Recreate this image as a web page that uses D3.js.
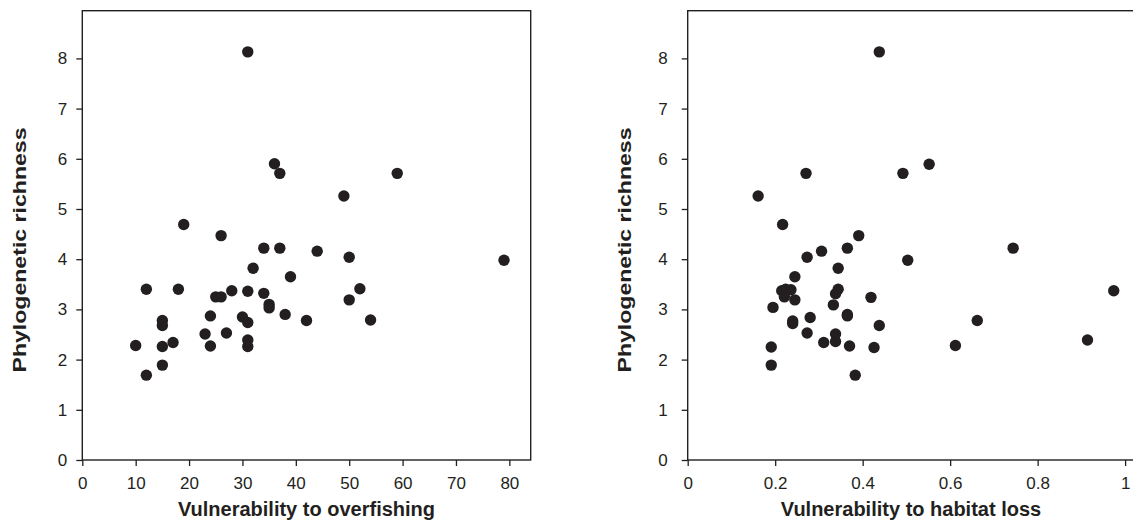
<!DOCTYPE html>
<html>
<head>
<meta charset="utf-8">
<script src="https://cdn.jsdelivr.net/npm/d3@7"></script>
<style>
  html, body { margin: 0; padding: 0; background: #fff; }
  svg { display: block; }
  text { font-family: "Liberation Sans", Arial, sans-serif; fill: #231f20; }
</style>
</head>
<body>
<svg id="chart" width="1133" height="522"></svg>
<script>
// ---- Data ----
const overfishing = [31, 36, 37, 59, 49, 19, 26, 34, 37, 44, 50, 79, 32, 39, 12, 18, 52, 25, 26, 28, 31, 34, 35, 35, 50, 24, 30, 31, 38, 42, 54, 15, 15, 23, 27, 31, 31, 10, 15, 17, 24, 15, 12];
const overfishingRichness = [8.13, 5.90, 5.71, 5.71, 5.26, 4.69, 4.47, 4.22, 4.22, 4.16, 4.04, 3.98, 3.82, 3.65, 3.40, 3.40, 3.41, 3.25, 3.25, 3.37, 3.36, 3.32, 3.10, 3.03, 3.19, 2.87, 2.85, 2.74, 2.90, 2.78, 2.79, 2.78, 2.68, 2.51, 2.53, 2.39, 2.26, 2.28, 2.26, 2.34, 2.27, 1.89, 1.69];

const habitatLoss = [0.438, 0.2705, 0.492, 0.552, 0.161, 0.217, 0.391, 0.365, 0.306, 0.273, 0.503, 0.744, 0.344, 0.245, 0.974, 0.215, 0.224, 0.236, 0.221, 0.245, 0.344, 0.338, 0.419, 0.195, 0.333, 0.365, 0.365, 0.280, 0.240, 0.240, 0.438, 0.662, 0.273, 0.338, 0.914, 0.338, 0.311, 0.370, 0.426, 0.191, 0.191, 0.383, 0.612];
const habitatRichness = [8.13, 5.71, 5.71, 5.89, 5.26, 4.69, 4.47, 4.22, 4.16, 4.04, 3.98, 4.22, 3.82, 3.65, 3.37, 3.37, 3.40, 3.39, 3.25, 3.19, 3.40, 3.31, 3.24, 3.04, 3.09, 2.90, 2.87, 2.84, 2.77, 2.72, 2.68, 2.78, 2.53, 2.51, 2.39, 2.36, 2.34, 2.27, 2.24, 2.25, 1.89, 1.69, 2.28];

const yTicks = [0, 1, 2, 3, 4, 5, 6, 7, 8];
const xTicksOverfishing = [0, 10, 20, 30, 40, 50, 60, 70, 80];
const xTicksHabitat = [0, 0.2, 0.4, 0.6, 0.8, 1];

const yLabel = "Phylogenetic richness";
const xLabelOverfishing = "Vulnerability to overfishing";
const xLabelHabitat = "Vulnerability to habitat loss";

// ---- Drawing ----
const svg = d3.select("#chart");
const ink = "#231f20";
const plotTop = 10.7, plotBottom = 460;

function panel(cfg) {
  const x = d3.scaleLinear().domain(cfg.xDomain).range([cfg.left, cfg.right]);
  const y = d3.scaleLinear().domain([0, 8.95]).range([plotBottom, plotTop]);
  const g = svg.append("g");

  // frame
  g.append("rect")
    .attr("x", cfg.left).attr("y", plotTop)
    .attr("width", cfg.right - cfg.left).attr("height", plotBottom - plotTop)
    .attr("fill", "none").attr("stroke", ink).attr("stroke-width", 1.4);

  // x axis
  const xa = g.append("g").attr("transform", `translate(0,${plotBottom})`)
    .call(d3.axisBottom(x).tickValues(cfg.xTicks).tickSize(6).tickSizeOuter(0).tickPadding(11)
      .tickFormat(d => String(+d.toFixed(2))));
  xa.select(".domain").remove();
  xa.selectAll(".tick line").attr("stroke", ink).attr("stroke-width", 1.3);
  xa.selectAll(".tick text").attr("font-size", 17).attr("font-family", "Liberation Sans, Arial, sans-serif").attr("fill", ink);

  // y axis
  const ya = g.append("g").attr("transform", `translate(${cfg.left},0)`)
    .call(d3.axisLeft(y).tickValues(yTicks).tickSize(6).tickSizeOuter(0).tickPadding(cfg.yPad));
  ya.select(".domain").remove();
  ya.selectAll(".tick line").attr("stroke", ink).attr("stroke-width", 1.3);
  ya.selectAll(".tick text").attr("font-size", 17).attr("font-family", "Liberation Sans, Arial, sans-serif").attr("fill", ink);

  // points
  g.append("g").selectAll("circle")
    .data(cfg.xs.map((v, i) => [v, cfg.ys[i]]))
    .join("circle")
    .attr("cx", d => x(d[0])).attr("cy", d => y(d[1]))
    .attr("r", 5.7).attr("fill", ink);

  // x label
  g.append("text")
    .attr("x", cfg.xLabelX).attr("y", 516)
    .attr("text-anchor", "middle")
    .attr("font-size", 20).attr("font-weight", "bold")
    .text(cfg.xLabel);

  // y label
  g.append("text")
    .attr("transform", `translate(${cfg.yLabelX},250) rotate(-90)`)
    .attr("text-anchor", "middle")
    .attr("font-size", 19).attr("font-weight", "bold")
    .attr("textLength", 245).attr("lengthAdjust", "spacingAndGlyphs")
    .text(yLabel);
}

panel({
  xDomain: [0, 84], left: 82.3, right: 530.7,
  xTicks: xTicksOverfishing, xs: overfishing, ys: overfishingRichness,
  xLabel: xLabelOverfishing, xLabelX: 306.5, yLabelX: 26, yPad: 9
});

panel({
  xDomain: [0, 1.021], left: 687.7, right: 1134.3,
  xTicks: xTicksHabitat, xs: habitatLoss, ys: habitatRichness,
  xLabel: xLabelHabitat, xLabelX: 911, yLabelX: 631, yPad: 14
});
</script>
</body>
</html>
